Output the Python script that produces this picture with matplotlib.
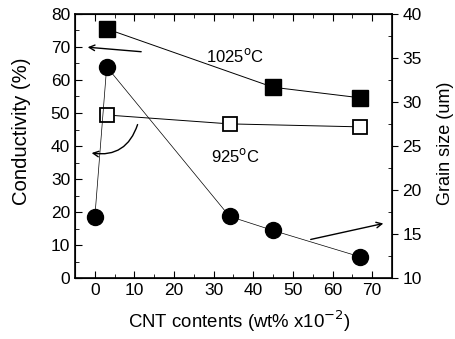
import matplotlib.pyplot as plt
from matplotlib.ticker import MultipleLocator

plt.rcParams['font.family'] = ['Liberation Sans', 'DejaVu Sans']

# conductivity (%) - left axis
cnt_1025 = [3, 45, 67]
cond_1025 = [75.5, 57.8, 54.6]
cnt_925 = [3, 34, 67]
cond_925 = [49.4, 46.7, 45.8]

# grain size (um) - right axis
cnt_grain = [0, 3, 34, 45, 67]
grain = [16.9, 34.0, 17.0, 15.4, 12.4]

fig = plt.figure(figsize=(4.56, 3.39), dpi=100)
ax = fig.add_axes([75 / 456, 1 - 278 / 339, 317 / 456, 264 / 339])
ax2 = ax.twinx()

ax.plot(cnt_1025, cond_1025, '-', color='k', lw=0.7, marker='s', ms=11,
        mfc='k', mec='k')
ax.plot(cnt_925, cond_925, '-', color='k', lw=0.7, marker='s', ms=10.5,
        mfc='white', mec='k', mew=1.3)
ax2.plot(cnt_grain, grain, '-', color='k', lw=0.5, marker='o', ms=11.5,
         mfc='k', mec='k')

ax.set_xlim(-5, 75)
ax.set_ylim(0, 80)
ax2.set_ylim(10, 40)

ax.xaxis.set_major_locator(MultipleLocator(10))
ax.xaxis.set_minor_locator(MultipleLocator(5))
ax.yaxis.set_major_locator(MultipleLocator(10))
ax.yaxis.set_minor_locator(MultipleLocator(5))
ax2.yaxis.set_major_locator(MultipleLocator(5))
ax2.yaxis.set_minor_locator(MultipleLocator(2.5))

ax.tick_params(which='both', direction='in', top=True, labelsize=12.5)
ax.tick_params(which='major', length=5)
ax.tick_params(which='minor', length=3)
ax2.tick_params(which='major', direction='out', length=4, labelsize=12.5)
ax2.tick_params(which='minor', direction='in', length=3)

ax.set_xlabel('CNT contents (wt% x10$^{-2}$)', fontsize=13.4, va='center')
ax.xaxis.set_label_coords(0.517, -0.163)
ax.set_ylabel('Conductivity (%)', fontsize=14.6, va='center')
ax.yaxis.set_label_coords(-0.17, 0.557)
ax2.set_ylabel('Grain size (um)', fontsize=13, va='center')
ax2.yaxis.set_label_coords(1.17, 0.51)

ax.text(35.4, 67.3, '1025$^{\\rm o}$C', fontsize=12, ha='center', va='center')
ax.text(35.6, 37, '925$^{\\rm o}$C', fontsize=12, ha='center', va='center')

arrow = dict(arrowstyle='->', color='k', lw=1)
ax.annotate('', xy=(-2.5, 70), xytext=(12.4, 68.5), arrowprops=arrow)
ax.annotate('', xy=(-1.5, 38), xytext=(11, 47.3),
            arrowprops=dict(arrowstyle='->', color='k', lw=1,
                            connectionstyle='arc3,rad=-0.45'))
ax.annotate('', xy=(73.5, 16.7), xytext=(53.8, 11.5), arrowprops=arrow)

for s in ax.spines.values():
    s.set_linewidth(1.2)

fig.savefig('out.png', dpi=100)
